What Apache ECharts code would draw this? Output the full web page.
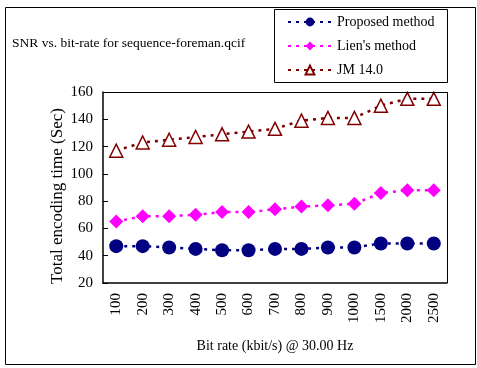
<!DOCTYPE html>
<html><head><meta charset="utf-8">
<script src="https://cdn.jsdelivr.net/npm/echarts@6/dist/echarts.min.js"></script>
<style>html,body{margin:0;padding:0;background:#fff}#c{width:477px;height:368px}</style>
</head><body><div id="c"></div>
<script>
var categories = ['100','200','300','400','500','600','700','800','900','1000','1500','2000','2500'];
var proposed = [47,47,46,45,44,44,45,45,46,46,49,49,49];
var lien = [65,69,69,70,72,72,74,76,77,78,86,88,88];
var jm = [117,123,125,127,129,131,133,139,141,141,150,155,155];
var yTicks = {min:20, max:160, interval:20};

var F = 'Liberation Serif';
var chart = echarts.init(document.getElementById('c'));
chart.setOption({
  animation:false,
  backgroundColor:'#fff',
  textStyle:{fontFamily:F},
  graphic:[
    {type:'rect', shape:{x:5.5,y:7.5,width:470,height:357}, style:{fill:null, stroke:'#000', lineWidth:1}, z:-1},
    {type:'rect', shape:{x:274.5,y:9.5,width:173,height:73}, style:{fill:'#fff', stroke:'#000', lineWidth:1}, z:0},
    {type:'text', left:12, top:36, style:{text:'SNR vs. bit-rate for sequence-foreman.qcif', font:'13.5px "Liberation Serif"', fill:'#000'}},
    {type:'text', x:58, y:196, rotation:Math.PI/2, style:{text:'Total encoding time (Sec)', font:'17px "Liberation Serif"', fill:'#000', align:'center', verticalAlign:'middle'}}
  ],
  legend:{
    orient:'vertical', left:282, top:10, itemGap:10, itemWidth:44, itemHeight:11,
    textStyle:{fontFamily:F, fontSize:14, color:'#000'},
    data:['Proposed method',"Lien's method",'JM 14.0'], z:5
  },
  grid:{left:103, top:92, right:30, bottom:85},
  xAxis:{
    type:'category', data:categories, boundaryGap:true,
    name:'Bit rate (kbit/s) @ 30.00 Hz', nameLocation:'middle', nameGap:56,
    nameTextStyle:{fontFamily:F, fontSize:14, color:'#000'},
    axisLine:{lineStyle:{color:'#000', width:1.5}},
    axisTick:{inside:true, length:5, lineStyle:{color:'#000'}},
    axisLabel:{rotate:90, fontFamily:F, fontSize:15, color:'#000', margin:10}
  },
  yAxis:{
    type:'value', min:yTicks.min, max:yTicks.max, interval:yTicks.interval,
    axisLine:{show:true, lineStyle:{color:'#000', width:1.5}},
    axisTick:{show:true, inside:true, length:5, lineStyle:{color:'#000'}},
    axisLabel:{fontFamily:F, fontSize:15, color:'#000', margin:10},
    splitLine:{show:false}
  },
  series:[
    {type:'line', name:'JM 14.0', data:jm, symbol:'triangle', symbolSize:13,
     itemStyle:{color:'#fff', borderColor:'#800000', borderWidth:1.5},
     lineStyle:{color:'#800000', type:[3,5], width:2.5}, color:'#800000'},
    {type:'line', name:"Lien's method", data:lien, symbol:'diamond', symbolSize:14,
     itemStyle:{color:'#ff00ff'}, lineStyle:{color:'#ff00ff', type:[3,5], width:2.5}, color:'#ff00ff'},
    {type:'line', name:'Proposed method', data:proposed, symbol:'circle', symbolSize:14,
     itemStyle:{color:'#000080'}, lineStyle:{color:'#000080', type:[3,5], width:2.5}, color:'#000080'},
    {type:'line', data:[], markLine:{silent:true, symbol:'none', label:{show:false},
     lineStyle:{color:'#000', type:'solid', width:1},
     data:[[{x:103,y:92},{x:447,y:92}],[{x:447,y:92},{x:447,y:283}]]}}
  ]
});
</script></body></html>
